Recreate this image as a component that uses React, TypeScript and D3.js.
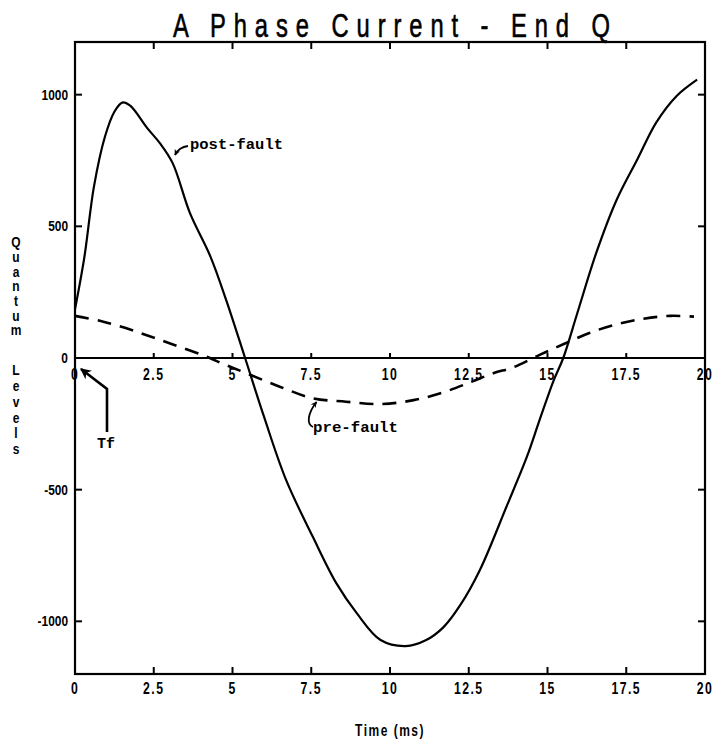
import React from "react";
import * as d3 from "d3";

const postTime = [0, 0.3, 0.6, 0.95, 1.25, 1.5, 1.75, 2.3, 2.7, 3.1, 3.65, 4.3, 4.8, 5.4, 6.0, 6.7, 7.55, 8.3, 8.95, 9.7, 10.5, 11.15, 11.7, 12.25, 12.85, 13.7, 14.35, 14.75, 15.2, 15.5, 15.95, 16.55, 17.2, 17.85, 18.45, 19.1, 19.75];
const postValues = [185, 385, 650, 840, 935, 970, 958, 872, 815, 740, 550, 385, 220, 0, -223, -463, -679, -856, -970, -1071, -1094, -1071, -1022, -935, -806, -564, -374, -235, -84, 0, 172, 400, 602, 754, 894, 995, 1057];

const preTime = [0, 0.9, 1.95, 3.0, 4.05, 4.8, 5.45, 6.5, 7.55, 8.6, 9.7, 10.75, 11.7, 12.55, 13.3, 13.9, 14.75, 15.5, 16.35, 17.2, 18.05, 18.9, 19.65];
const preValues = [160, 138, 100, 56, 11, -27, -58, -109, -153, -166, -175, -160, -130, -92, -57, -36, 12, 52, 96, 128, 149, 160, 157];

const xTicks = [0, 2.5, 5, 7.5, 10, 12.5, 15, 17.5, 20];
const xTickLabels = ["0", "2.5", "5", "7.5", "10", "12.5", "15", "17.5", "20"];
const yTicks = [1000, 500, 0, -500, -1000];
const yTickLabels = ["1000", "500", "0", "-500", "-1000"];

const title = "A Phase Current - End Q";
const xTitle = "Time (ms)";
const yTitleWords = ["Quantum", "Levels"];

const W = 715, H = 742;
const L = 75, R = 705, T = 42, B = 674;

export default function App() {
  const x = d3.scaleLinear().domain([0, 20]).range([L, R]);
  const y = d3.scaleLinear().domain([-1200, 1200]).range([B, T]);
  const line = d3.line<[number, number]>().x(d => x(d[0])).y(d => y(d[1])).curve(d3.curveCatmullRom.alpha(0.5));
  const postPath = line(postTime.map((t, i) => [t, postValues[i]]) as [number, number][]) || "";
  const prePath = line(preTime.map((t, i) => [t, preValues[i]]) as [number, number][]) || "";

  const labelFont = "'Liberation Sans', Arial, sans-serif";
  const monoFont = "'Liberation Mono', 'DejaVu Sans Mono', monospace";
  const inner = xTicks.slice(1, -1);
  const innerY = yTicks.filter(v => v !== 0);

  const tl = (px: number, py: number, sx: number) => `translate(${px},${py}) scale(${sx},1)`;
  const vertStyle: React.CSSProperties = { writingMode: "vertical-rl", textOrientation: "upright" } as React.CSSProperties;

  return (
    <svg width={W} height={H} style={{ position: "absolute", left: 0, top: 0, background: "#fff" }} xmlns="http://www.w3.org/2000/svg">
      <defs>
        <marker id="ah" viewBox="0 0 10 10" refX="9" refY="5" markerWidth="6" markerHeight="6" orient="auto" markerUnits="userSpaceOnUse">
          <path d="M0,0 L10,5 L0,10 L3,5 Z" fill="#000" />
        </marker>
        <marker id="ah2" viewBox="0 0 10 10" refX="9" refY="5" markerWidth="11" markerHeight="11" orient="auto" markerUnits="userSpaceOnUse">
          <path d="M0,0 L10,5 L0,10 L3,5 Z" fill="#000" />
        </marker>
      </defs>
      <rect x={0} y={0} width={W} height={H} fill="#fff" />

      {/* title */}
      <text transform={tl(391.5, 37, 0.72)} textAnchor="middle" fontFamily={labelFont} fontSize={33}
        stroke="#000" strokeWidth={0.6}
        textLength={437 / 0.72} lengthAdjust="spacing" fill="#000">{title}</text>

      {/* frame */}
      <rect x={L} y={T} width={R - L} height={B - T} fill="none" stroke="#000" strokeWidth={2.2} />
      {/* zero line */}
      <line x1={L} x2={R} y1={y(0)} y2={y(0)} stroke="#000" strokeWidth={2} />

      {/* ticks */}
      {inner.map((t, i) => (
        <g key={"xt" + i} stroke="#000" strokeWidth={2}>
          <line x1={x(t)} x2={x(t)} y1={B} y2={B - 7} />
          <line x1={x(t)} x2={x(t)} y1={T} y2={T + 7} />
          <line x1={x(t)} x2={x(t)} y1={y(0)} y2={y(0) - 5} />
        </g>
      ))}
      {innerY.map((v, i) => (
        <g key={"yt" + i} stroke="#000" strokeWidth={2}>
          <line x1={L} x2={L + 7} y1={y(v)} y2={y(v)} />
          <line x1={R} x2={R - 7} y1={y(v)} y2={y(v)} />
        </g>
      ))}

      {/* x tick labels: bottom and on zero line */}
      {xTicks.map((t, i) => (
        <g key={"xl" + i}>
          <text transform={tl(x(t), 694, 0.72)} textAnchor="middle" fontFamily={labelFont} fontWeight="bold" fontSize={17} letterSpacing={2}>{xTickLabels[i]}</text>
          <text transform={tl(x(t), 380, 0.72)} textAnchor="middle" fontFamily={labelFont} fontWeight="bold" fontSize={17} letterSpacing={2}>{xTickLabels[i]}</text>
        </g>
      ))}
      {/* y tick labels */}
      {yTicks.map((v, i) => (
        <text key={"yl" + i} transform={tl(68, y(v) + 5, 0.85)} textAnchor="end" fontFamily={labelFont} fontWeight="bold" fontSize={14}>{yTickLabels[i]}</text>
      ))}

      {/* y title stacked (vertical, upright letters) */}
      <text transform={tl(16, 234, 0.8)} style={vertStyle} fontFamily={labelFont} fontWeight="bold" fontSize={15} letterSpacing={-1.9}>{yTitleWords[0]}</text>
      <text transform={tl(16, 362, 0.8)} style={vertStyle} fontFamily={labelFont} fontWeight="bold" fontSize={15} letterSpacing={-0.8}>{yTitleWords[1]}</text>

      {/* x title */}
      <text transform={tl(390, 736, 0.75)} textAnchor="middle" fontFamily={labelFont} fontWeight="bold" fontSize={16} letterSpacing={2}>{xTitle}</text>

      {/* curves */}
      <path d={prePath} fill="none" stroke="#000" strokeWidth={2.6} strokeDasharray="14,9" />
      <path d={postPath} fill="none" stroke="#000" strokeWidth={2.2} />

      {/* annotations */}
      <text x={190} y={149} fontFamily={monoFont} fontWeight="bold" fontSize={15} textLength={93} lengthAdjust="spacingAndGlyphs">post-fault</text>
      <path d="M188,146 Q179,147 175,155" fill="none" stroke="#000" strokeWidth={1.8} markerEnd="url(#ah)" />

      <text x={313} y={432} fontFamily={monoFont} fontWeight="bold" fontSize={15} textLength={85} lengthAdjust="spacingAndGlyphs">pre-fault</text>
      <path d="M313,427 C306,424 308,413 316.5,402" fill="none" stroke="#000" strokeWidth={1.8} markerEnd="url(#ah)" />

      <text x={97} y={448} fontFamily={monoFont} fontWeight="bold" fontSize={15}>Tf</text>
      <path d="M107,432 L107,389 L81,369" fill="none" stroke="#000" strokeWidth={2.6} markerEnd="url(#ah2)" />
    </svg>
  );
}
